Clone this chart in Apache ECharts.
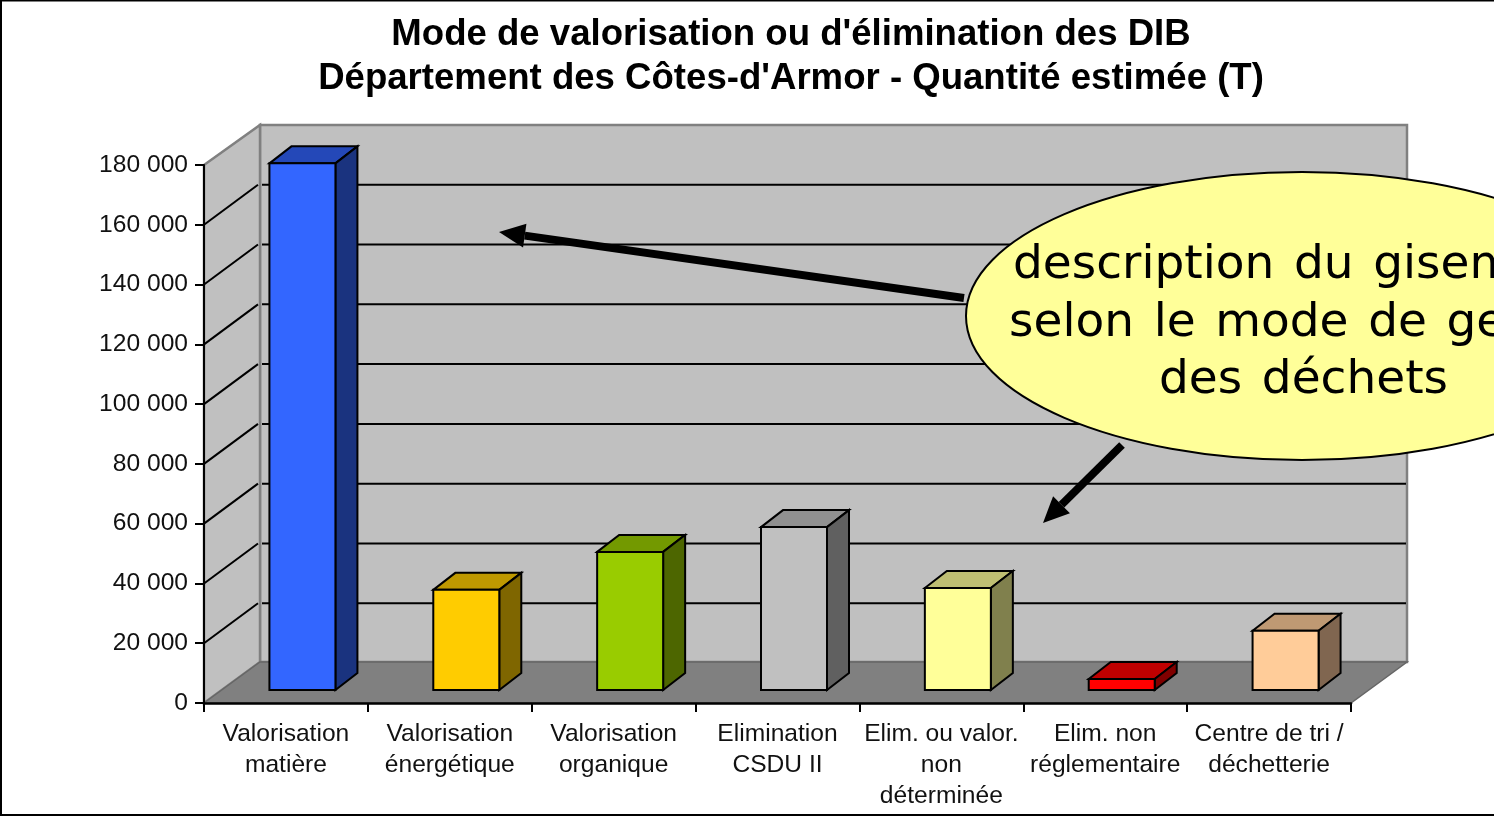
<!DOCTYPE html>
<html><head><meta charset="utf-8">
<style>html,body{margin:0;padding:0;background:#fff;overflow:hidden}#c{width:1494px;height:816px}</style>
<script src="https://cdn.jsdelivr.net/npm/echarts@6/dist/echarts.min.js"></script>
</head><body><div id="c"></div>
<script>
var categories = ['Valorisation\nmatière','Valorisation\nénergétique','Valorisation\norganique','Elimination\nCSDU II','Elim. ou valor.\nnon\ndéterminée','Elim. non\nréglementaire','Centre de tri /\ndéchetterie'];
var values = [176200, 33500, 46200, 54500, 34100, 3700, 19800];
var frontColors = ['#3366FF','#FFCC00','#99CC00','#C0C0C0','#FFFF99','#FF0000','#FFCC99'];
var topColors = ['#2448B8','#BF9900','#739900','#909090','#BFBF73','#BF0000','#BF9973'];
var sideColors = ['#1A337F','#7F6600','#4D6600','#606060','#80804D','#800000','#806650'];
var yTicks = [20000,40000,60000,80000,100000,120000,140000,160000];
var yMax = 180000;
var title = "Mode de valorisation ou d'élimination des DIB\nDépartement des Côtes-d'Armor - Quantité estimée (T)";
var noteLines = ['description du gisement','selon le mode de gestion','des déchets'];

var WALL = {x:56, y:-40}, FRONT = {x:17, y:-13}, DEPTH = {x:22, y:-17}, BAR_W = 66;
var chart = echarts.init(document.getElementById('c'));

function poly(points, fill, stroke, lw){
  return {type:'polygon', shape:{points:points}, style:{fill:fill, stroke:stroke||'#000', lineWidth:lw==null?2:lw, lineJoin:'miter'}};
}
function arrow(x1,y1,x2,y2,w,hl,hw){
  var a=Math.atan2(y2-y1,x2-x1), c=Math.cos(a), s=Math.sin(a);
  var bx=x2-hl*c, by=y2-hl*s;
  return [
    {type:'line', z:50, shape:{x1:x1,y1:y1,x2:bx,y2:by}, style:{stroke:'#000',lineWidth:w}},
    {type:'polygon', z:50, shape:{points:[[x2,y2],[bx-hw*s,by+hw*c],[bx+hw*s,by-hw*c]]}, style:{fill:'#000'}}
  ];
}
function noteText(line,x,y){
  return {type:'text', z:61, x:x, y:y, style:{text:line.replace(/ /g,' \u200A'), fill:'#000', font:'47px "DejaVu Sans"', textAlign:'left', textVerticalAlign:'middle'}};
}

chart.setOption({
  animation:false,
  backgroundColor:'#fff',
  title:{text:title, left:786, top:8, textAlign:'center',
    textStyle:{fontFamily:'"Liberation Sans"', fontWeight:'bold', fontSize:36.6, lineHeight:44, color:'#000'}},
  grid:{left:204, top:165, width:1147, height:538},
  xAxis:{type:'category', data:categories, z:10,
    axisLine:{lineStyle:{color:'#000',width:2.5}},
    axisTick:{show:true, length:9, lineStyle:{color:'#000',width:2}},
    axisLabel:{interval:0, margin:16, fontFamily:'"Liberation Sans"', fontSize:24.6, lineHeight:31, color:'#111'}},
  yAxis:{type:'value', min:0, max:yMax, interval:20000, z:10,
    axisLine:{show:true, lineStyle:{color:'#000',width:2}},
    axisTick:{show:true, length:9, lineStyle:{color:'#000',width:2}},
    splitLine:{show:false},
    axisLabel:{margin:16, fontFamily:'"Liberation Sans"', fontSize:24.6, color:'#111',
      formatter:function(v){return String(v).replace(/\B(?=(\d{3})+$)/g,' ');}}},
  series:[
    {type:'custom', name:'walls', z:1, silent:true, clip:false, coordinateSystem:'cartesian2d',
     data:[[0,0]],
     renderItem:function(p,api){
       var g=api.coord([0,0]), t=api.coord([0,yMax]), b=api.size([1,0])[0];
       var x0=g[0]-b/2, x1=x0+b*categories.length, y0=g[1], y1=t[1];
       return {type:'group',children:[
         poly([[x0+WALL.x,y1+WALL.y],[x1+WALL.x,y1+WALL.y],[x1+WALL.x,y0+WALL.y-1],[x0+WALL.x,y0+WALL.y-1]],'#C0C0C0','#808080',2.5),
         poly([[x0,y1],[x0+WALL.x,y1+WALL.y],[x0+WALL.x,y0+WALL.y-1],[x0,y0]],'#C0C0C0','#808080',2.5),
         poly([[x0,y0],[x0+WALL.x,y0+WALL.y-1],[x1+WALL.x,y0+WALL.y-1],[x1,y0]],'#808080','#666666',1.5)
       ]};
     }},
    {type:'custom', name:'gridlines', z:2, silent:true, clip:false,
     data:yTicks.map(function(v){return [0,v];}),
     renderItem:function(p,api){
       var c=api.coord([0,api.value(1)]), b=api.size([1,0])[0];
       var x0=c[0]-b/2, x1=x0+b*categories.length, y=c[1];
       var st={stroke:'#000',lineWidth:2};
       return {type:'group',children:[
         {type:'line',shape:{x1:x0,y1:y,x2:x0+WALL.x-2,y2:y+WALL.y},style:st},
         {type:'line',shape:{x1:x0+WALL.x+2,y1:y+WALL.y,x2:x1+WALL.x-1,y2:y+WALL.y},style:st}
       ]};
     }},
    {type:'custom', name:'Quantité estimée (T)', z:3, clip:false,
     data:values.map(function(v,i){return [i,v];}),
     renderItem:function(p,api){
       var i=api.value(0), top=api.coord([i,api.value(1)]), base=api.coord([i,0]);
       var l=top[0]+FRONT.x-BAR_W/2-0.5, r=l+BAR_W, yt=top[1]+FRONT.y, yb=base[1]+FRONT.y;
       var dx=DEPTH.x, dy=DEPTH.y;
       return {type:'group',children:[
         poly([[l,yt],[l+dx,yt+dy],[r+dx,yt+dy],[r,yt]],topColors[i]),
         poly([[r,yt],[r+dx,yt+dy],[r+dx,yb+dy],[r,yb]],sideColors[i]),
         poly([[l,yt],[r,yt],[r,yb],[l,yb]],frontColors[i])
       ]};
     }}
  ],
  graphic:[
    {type:'rect', z:40, shape:{x:1,y:0.5,width:1600,height:814.5}, style:{fill:'none',stroke:'#000',lineWidth:2}}
  ].concat(
    arrow(964,298,499,232,8,26,12),
    arrow(1122,445,1043,523,8,26,12),
    [
      {type:'ellipse', z:60, shape:{cx:1302,cy:316,rx:336,ry:144}, style:{fill:'#FFFF99',stroke:'#000',lineWidth:2}},
      noteText(noteLines[0],1013,266),
      noteText(noteLines[1],1009,324),
      noteText(noteLines[2],1159,381)
    ])
});
</script></body></html>
